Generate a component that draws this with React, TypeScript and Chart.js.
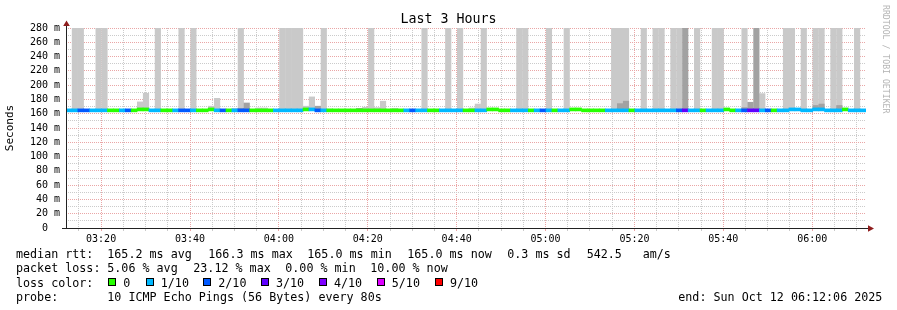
import React, { useEffect, useRef } from 'react';
import { Chart, registerables } from 'chart.js';

Chart.register(...registerables);

const MONO = '"DejaVu Sans Mono", "Liberation Mono", monospace';

// ---------- data ----------
// time axis in minutes since midnight; window 03:12:06 .. 06:12:06, one step every 80 s
const startMinutes = 192.1;
const stepMinutes = 80 / 60;
const stepCount = 135;
// grid / tick positions (minutes since midnight): 03:15 .. 06:10 every 5 min
const xTickMinutes = [
  195, 200, 205, 210, 215, 220, 225, 230, 235, 240, 245, 250, 255, 260, 265, 270, 275, 280,
  285, 290, 295, 300, 305, 310, 315, 320, 325, 330, 335, 340, 345, 350, 355, 360, 365, 370,
];

// packet loss per step (tenths of 10 pings)
const lossTenths = [
  1, 1, 2, 2, 1, 1, 1, 0, 0, 1,
  2, 0, 0, 0, 1, 1, 0, 0, 1, 2,
  2, 1, 0, 0, 0, 1, 2, 0, 1, 2,
  2, 0, 0, 0, 0, 1, 1, 1, 1, 1,
  0, 1, 2, 1, 0, 0, 0, 0, 0, 0,
  0, 0, 0, 0, 0, 0, 0, 1, 2, 1,
  1, 0, 0, 1, 1, 1, 1, 0, 0, 1,
  1, 0, 0, 0, 0, 1, 1, 1, 0, 1,
  2, 1, 0, 1, 1, 0, 0, 0, 0, 0,
  0, 1, 1, 1, 1, 0, 1, 1, 1, 1,
  1, 1, 1, 2, 3, 1, 1, 0, 1, 1,
  1, 0, 0, 1, 2, 3, 3, 1, 2, 0,
  1, 1, 1, 1, 1, 1, 1, 1, 1, 1,
  1, 0, 1, 1, 1,
];

// median rtt (ms): 165.0 everywhere except these steps
const medianBaseMs = 165.0;
const medianHighSteps = [12, 13, 24, 40, 41, 71, 72, 85, 86, 111, 122, 123, 126, 127, 131];
const medianHighMs = 166.3;

// smoke (ping spread) tops in ms: [step, top]; 280 = off the chart
const smokeLight: [number, number][] = [
  [1, 280], [2, 280], [5, 280], [6, 280], [12, 177], [13, 189], [15, 280], [19, 280], [21, 280],
  [24, 171], [25, 182], [28, 168], [29, 280], [32, 168.5], [33, 168.5], [36, 280], [37, 280],
  [38, 280], [39, 280], [40, 171], [41, 184], [43, 280], [44, 167], [50, 169.5], [51, 280],
  [52, 169], [53, 178], [55, 168], [60, 280], [64, 280], [66, 280], [68, 168.5], [69, 174],
  [70, 280], [76, 280], [77, 280], [81, 280], [84, 280], [92, 280], [93, 280], [94, 280],
  [97, 280], [99, 280], [100, 280], [102, 280], [103, 280], [106, 280], [109, 280], [110, 280],
  [114, 280], [117, 188.6], [121, 280], [122, 280], [124, 280], [126, 280], [127, 280],
  [129, 280], [130, 280], [133, 280],
];
const smokeDark: [number, number][] = [
  [29, 168], [30, 175.5], [42, 171], [49, 168], [93, 174.6], [94, 178], [104, 280],
  [114, 169], [115, 176.5], [116, 280], [126, 172], [127, 174], [130, 172],
];

const lossColors: Record<number, string> = {
  0: '#26ff00', 1: '#00b8ff', 2: '#0059ff', 3: '#5e00ff', 4: '#7e00ff', 5: '#dd00ff', 9: '#ff0000',
};
const lossLegendKeys = [0, 1, 2, 3, 4, 5, 9];
const lossLegendLabels = ['0', '1/10', '2/10', '3/10', '4/10', '5/10', '9/10'];

const titleText = 'Last 3 Hours';
const yAxisTitle = 'Seconds';
const yMax = 280;
const medianStats = ['165.2 ms avg', '166.3 ms max', '165.0 ms min', '165.0 ms now', '0.3 ms sd', '542.5', 'am/s'];
const lossStats = ['5.06 % avg', '23.12 % max', '0.00 % min', '10.00 % now'];
const probeText = '10 ICMP Echo Pings (56 Bytes) every 80s';
const endText = 'end: Sun Oct 12 06:12:06 2025';
const watermark = 'RRDTOOL / TOBI OETIKER';

// ---------- layout (pixels) ----------
const W = 897;
const H = 310;
const medianStatX = [107.3, 208.3, 307.3, 407.3, 507.3, 586.7, 642.7];
const lossStatX = [107.3, 193.3, 285.3, 370.3];
const swatchX = [108.3, 145.8, 203.3, 261, 319, 376.8, 435];
const rowBaselines = [258.3, 272.4, 286.6, 300.7];

const MAJOR = '#eaa6a6';
const MINOR = '#cbcbcb';

function fmtTime(v: number) {
  const m = Math.round(v);
  const h = Math.floor(m / 60);
  const mm = m % 60;
  return String(h).padStart(2, '0') + ':' + String(mm).padStart(2, '0');
}

const isMajorX = (v: number) => Math.round(v) % 20 === 0;

const axesPlugin = {
  id: 'rrdAxes',
  afterDatasetsDraw(chart: any) {
    const { ctx, chartArea } = chart;
    const { left, right, top, bottom } = chartArea;
    ctx.save();
    ctx.lineWidth = 1;
    ctx.strokeStyle = '#222';
    ctx.beginPath();
    ctx.moveTo(left - 4, bottom + 0.5);
    ctx.lineTo(right + 2, bottom + 0.5);
    ctx.moveTo(left + 0.5, bottom + 1);
    ctx.lineTo(left + 0.5, top - 2);
    ctx.stroke();
    ctx.fillStyle = '#8f1d1d';
    ctx.beginPath();
    ctx.moveTo(left - 2.8, top - 2);
    ctx.lineTo(left + 3.8, top - 2);
    ctx.lineTo(left + 0.5, top - 7.5);
    ctx.closePath();
    ctx.fill();
    ctx.beginPath();
    ctx.moveTo(right + 2, bottom - 2.8);
    ctx.lineTo(right + 2, bottom + 3.8);
    ctx.lineTo(right + 8, bottom + 0.5);
    ctx.closePath();
    ctx.fill();
    ctx.restore();
  },
};

function Txt(props: { x: number; baseline: number; text: string; size?: number; color?: string }) {
  const size = props.size ?? 11.7;
  return (
    <div
      style={{
        position: 'absolute',
        left: props.x,
        top: props.baseline - 11.05,
        fontFamily: MONO,
        fontSize: size,
        lineHeight: '14px',
        whiteSpace: 'pre',
        color: props.color ?? '#000',
      }}
    >
      {props.text}
    </div>
  );
}

export default function App() {
  const ref = useRef<HTMLCanvasElement | null>(null);

  useEffect(() => {
    const canvas = ref.current;
    if (!canvas) return;
    const xs = Array.from({ length: stepCount }, (_, i) => startMinutes + (i + 0.5) * stepMinutes);
    const medians = xs.map((_, i) => (medianHighSteps.includes(i) ? medianHighMs : medianBaseMs));
    const lightMap = new Map(smokeLight);
    const darkMap = new Map(smokeDark);

    const barCommon = { grouped: false, barPercentage: 1.04, categoryPercentage: 1, borderWidth: 0 };

    const chart = new Chart(canvas, {
      type: 'bar',
      data: {
        datasets: [
          {
            label: 'median rtt',
            data: xs.map((x, i) => ({ x, y: [medians[i] - 2.4, medians[i] + 1.8] })) as any,
            backgroundColor: lossTenths.map((l) => lossColors[l]),
            order: 1,
            ...barCommon,
            barPercentage: 1.0,
          },
          {
            label: 'smoke dark',
            data: xs.map((x, i) => ({ x, y: darkMap.has(i) ? [medians[i], darkMap.get(i)] : null })) as any,
            backgroundColor: '#a2a2a2',
            order: 2,
            ...barCommon,
          },
          {
            label: 'smoke light',
            data: xs.map((x, i) => ({ x, y: lightMap.has(i) ? [medians[i], lightMap.get(i)] : null })) as any,
            backgroundColor: '#c9c9c9',
            order: 3,
            ...barCommon,
          },
        ],
      },
      options: {
        responsive: false,
        animation: false,
        devicePixelRatio: 1,
        layout: { padding: { top: 28, right: 31, left: 0, bottom: 0 } },
        plugins: {
          legend: { display: false },
          tooltip: { enabled: false },
          title: { display: false },
        },
        scales: {
          x: {
            type: 'linear',
            min: startMinutes,
            max: startMinutes + stepCount * stepMinutes,
            offset: false,
            afterBuildTicks: (s: any) => {
              s.ticks = xTickMinutes.map((v) => ({ value: v }));
            },
            afterFit: (s: any) => {
              s.height = 82;
            },
            ticks: {
              autoSkip: false,
              maxRotation: 0,
              minRotation: 0,
              padding: 2,
              color: '#000',
              font: { family: MONO, size: 10 },
              callback: (v: any) => (isMajorX(v) ? fmtTime(v) : ''),
            },
            grid: {
              offset: false,
              color: (c: any) => (c.tick && isMajorX(c.tick.value) ? MAJOR : MINOR),
              tickColor: (c: any) => (c.tick && isMajorX(c.tick.value) ? MAJOR : MINOR),
              lineWidth: 1,
              drawTicks: true,
              tickLength: 3,
            },
            border: { display: false, dash: [1, 1] },
          },
          y: {
            type: 'linear',
            min: 0,
            max: yMax,
            afterFit: (s: any) => {
              s.width = 66;
            },
            ticks: {
              stepSize: 10,
              autoSkip: false,
              maxTicksLimit: 100,
              padding: 6,
              color: '#000',
              font: { family: MONO, size: 10 },
              callback: (v: any) => {
                const n = Math.round(v);
                if (n % 20 !== 0) return '';
                return n === 0 ? '0  ' : n + ' m';
              },
            },
            grid: {
              offset: false,
              color: (c: any) => (c.tick && Math.round(c.tick.value) % 20 === 0 ? MAJOR : MINOR),
              lineWidth: 1,
              drawTicks: false,
            },
            border: { display: false, dash: [1, 1] },
            title: {
              display: true,
              text: yAxisTitle,
              color: '#000',
              font: { family: MONO, size: 11 },
              padding: { top: 4, bottom: 0 },
            },
          },
        },
      } as any,
      plugins: [axesPlugin],
    });
    return () => chart.destroy();
  }, []);

  return (
    <div
      style={{
        position: 'absolute',
        left: 0,
        top: 0,
        width: W,
        height: H,
        overflow: 'hidden',
        background: '#fff',
      }}
    >
      <canvas ref={ref} width={W} height={H} style={{ position: 'absolute', left: 0, top: 0 }} />
      <div
        style={{
          position: 'absolute',
          left: 0,
          top: 11.4,
          width: W,
          textAlign: 'center',
          fontFamily: MONO,
          fontSize: 13.3,
          lineHeight: '16px',
          whiteSpace: 'pre',
          color: '#000',
        }}
      >
        {titleText}
      </div>
      <div
        style={{
          position: 'absolute',
          left: 891,
          top: 5,
          transform: 'rotate(90deg)',
          transformOrigin: '0 0',
          fontFamily: MONO,
          fontSize: 8.2,
          lineHeight: '10px',
          whiteSpace: 'pre',
          color: '#b4b4b4',
        }}
      >
        {watermark}
      </div>

      <Txt x={16} baseline={rowBaselines[0]} text="median rtt:" />
      {medianStats.map((s, i) => (
        <Txt key={'m' + i} x={medianStatX[i]} baseline={rowBaselines[0]} text={s} />
      ))}

      <Txt x={16} baseline={rowBaselines[1]} text="packet loss:" />
      {lossStats.map((s, i) => (
        <Txt key={'l' + i} x={lossStatX[i]} baseline={rowBaselines[1]} text={s} />
      ))}

      <Txt x={16} baseline={rowBaselines[2]} text="loss color:" />
      {lossLegendKeys.map((k, i) => (
        <React.Fragment key={'c' + i}>
          <div
            style={{
              position: 'absolute',
              left: swatchX[i],
              top: rowBaselines[2] - 8.3,
              width: 8,
              height: 8,
              boxSizing: 'border-box',
              border: '1px solid #000',
              background: lossColors[k],
            }}
          />
          <Txt x={swatchX[i] + 15} baseline={rowBaselines[2]} text={lossLegendLabels[i]} />
        </React.Fragment>
      ))}

      <Txt x={16} baseline={rowBaselines[3]} text="probe:" />
      <Txt x={107.3} baseline={rowBaselines[3]} text={probeText} />
      <Txt x={678.3} baseline={rowBaselines[3]} text={endText} />
    </div>
  );
}
